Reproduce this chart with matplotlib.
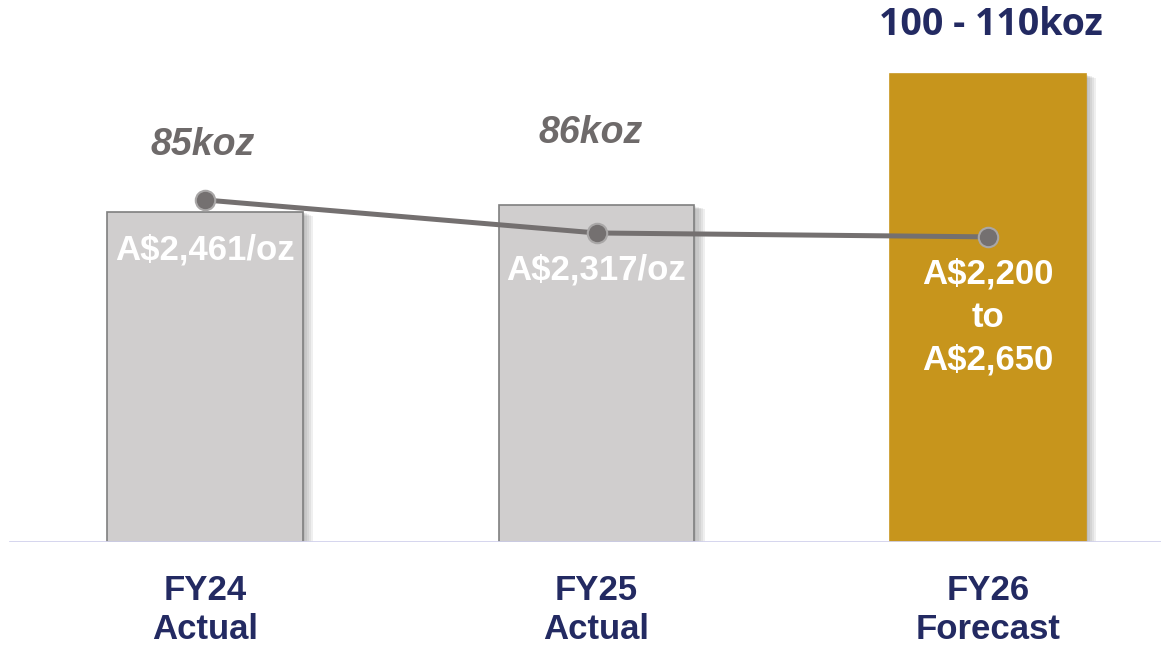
import matplotlib.pyplot as plt
import matplotlib.patheffects as pe

# data
years = ["FY24\nActual", "FY25\nActual", "FY26\nForecast"]
production_koz = [85, 86.7, 120.5]
production_labels = ["85koz", "86koz", "100 - 110koz"]
aisc = [2461, 2317, 2300]
aisc_labels = ["A$2,461/oz", "A$2,317/oz", "A$2,200\nto\nA$2,650"]

GREY_BAR = "#d0cece"
GOLD_BAR = "#c7951c"
LINE_GREY = "#747070"
NAVY = "#232a62"

W, H = 1161, 647
fig = plt.figure(figsize=(W / 100, H / 100), dpi=100)
base = 541.7
ax = fig.add_axes([0, (H - base) / H, 1, base / H])
ax.set_xlim(-205 / 391.5, (W - 205) / 391.5)
ax.set_ylim(0, base / 3.882)
ax.axis("off")

x = range(len(years))
colors = [GREY_BAR, GREY_BAR, GOLD_BAR]
edges = ["#7f7f7f", "#7f7f7f", GOLD_BAR]
bars = ax.bar(x, production_koz, width=0.5, color=colors, edgecolor=edges,
              linewidth=1.2, zorder=2)
# soft drop shadow, built from a few faint offset copies
shadow = [pe.SimplePatchShadow(offset=(k, -k * 0.4), shadow_rgbFace="#555555", alpha=0.09)
          for k in (1.5, 3, 4.5, 6, 7.5)]
for b in bars:
    b.set_path_effects(shadow + [pe.Normal()])

ax.axhline(0, xmin=10 / W, xmax=1, color="#d2d2ec", linewidth=2, zorder=3)

# production labels
sans = ["Liberation Sans", "DejaVu Sans"]
ax.text(-0.005, 102.2, production_labels[0], ha="center", va="center", fontsize=27,
        fontweight="bold", style="italic", color="#6e6a6a", family=sans)
ax.text(0.985, 105.2, production_labels[1], ha="center", va="center", fontsize=27,
        fontweight="bold", style="italic", color="#6e6a6a", family=sans)
fig.text(991 / W, 1 - 25 / H, production_labels[2], ha="center", va="center", fontsize=27,
         fontweight="bold", color=NAVY, family=["Open Sans", "DejaVu Sans"])

# category labels under the axis
for i, lab in enumerate(years):
    ax.text(i, -17.6, lab, ha="center", va="center", fontsize=25, fontweight="bold",
            color=NAVY, family=sans, linespacing=1.25, clip_on=False)

# AISC line on a second scale
ax2 = ax.twinx()
ax2.set_ylim(970, 970 + base / 0.2292)
ax2.axis("off")
ax2.plot(x, aisc, color=LINE_GREY, linewidth=3.6, marker="o", markersize=14,
         markerfacecolor=LINE_GREY, markeredgecolor="#a9a7a7", markeredgewidth=1.5,
         zorder=5)

label_y = [2243, 2155, 1950]
for i, lab in enumerate(aisc_labels):
    ax2.text(i, label_y[i], lab, ha="center", va="center", fontsize=25, fontweight="bold",
             color="white", family=sans, linespacing=1.38)

fig.savefig("out.png", dpi=100)
